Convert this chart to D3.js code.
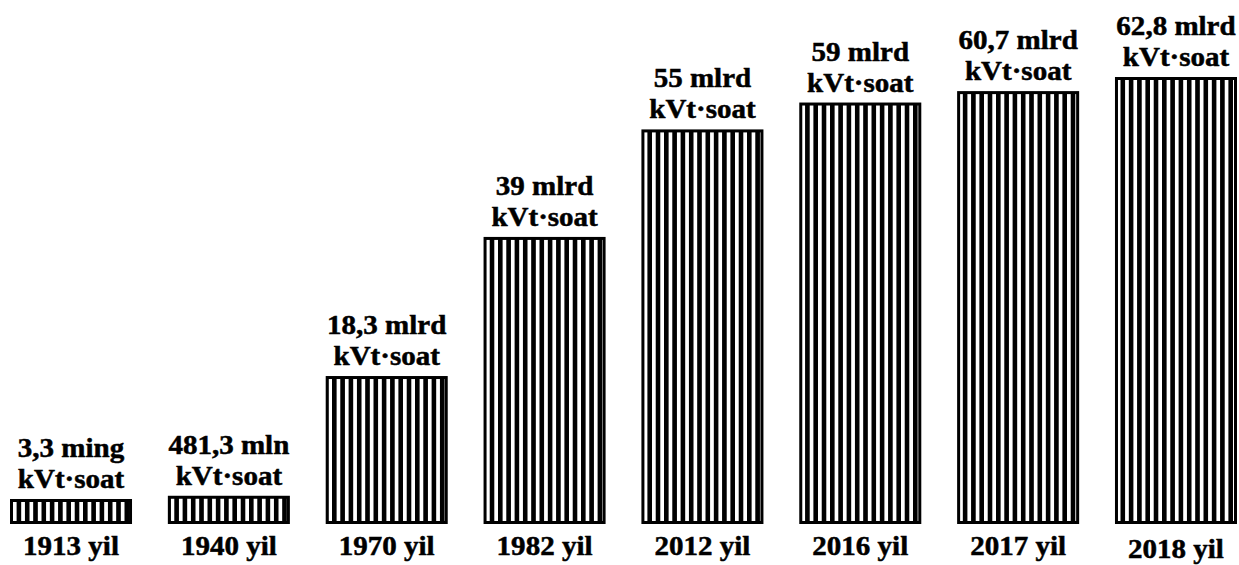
<!DOCTYPE html>
<html>
<head>
<meta charset="utf-8">
<script src="https://cdn.jsdelivr.net/npm/d3@7"></script>
<style>
  html, body { margin: 0; padding: 0; background: #fff; }
  svg text { font-family: "Liberation Serif", "Times New Roman", serif; font-weight: bold; fill: #000; stroke: #000; stroke-width: 0.5px; }
</style>
</head>
<body>
<svg id="chart" width="1239" height="565"></svg>
<script>
// Electricity generation, billions of kWh
const years = ["1913", "1940", "1970", "1982", "2012", "2016", "2017", "2018"];
const valuesBln = [0.0000033, 0.4813, 18.3, 39, 55, 59, 60.7, 62.8];
const valueLabels = ["3,3 ming", "481,3 mln", "18,3 mlrd", "39 mlrd", "55 mlrd", "59 mlrd", "60,7 mlrd", "62,8 mlrd"];
const unitLabel = "kVt·soat";
const yearSuffix = " yil";

const data = years.map((y, i) => ({ year: y, value: valuesBln[i], label: valueLabels[i] }));

const svg = d3.select("#chart");
const baseY = 524;
const border = 3;

const x = d3.scaleBand()
  .domain(years)
  .range([10, 1237])
  .paddingInner(0.227)
  .paddingOuter(0);

// bars keep a small stub at zero so the tiny early values stay visible
const y = d3.scaleLinear()
  .domain([0, d3.max(valuesBln)])
  .range([499, 77]);

// vertical hatching
const defs = svg.append("defs");
const pat = defs.append("pattern")
  .attr("id", "vstripes")
  .attr("patternUnits", "userSpaceOnUse")
  .attr("width", 8.3)
  .attr("height", 10);
pat.append("rect").attr("width", 8.3).attr("height", 10).attr("fill", "#fff");
pat.append("rect").attr("x", 0).attr("width", 4.6).attr("height", 10).attr("fill", "#000");

const g = svg.append("g");

g.selectAll("rect.bar")
  .data(data)
  .join("rect")
  .attr("class", "bar")
  .attr("x", d => x(d.year) + border / 2)
  .attr("y", d => y(d.value) + border / 2)
  .attr("width", x.bandwidth() - border)
  .attr("height", d => baseY - y(d.value) - border)
  .attr("fill", "url(#vstripes)")
  .attr("stroke", "#000")
  .attr("stroke-width", border);

const fs = 27;
const stretch = 1.075;
const cx = d => x(d.year) + x.bandwidth() / 2;

g.selectAll("text.vlabel")
  .data(data)
  .join("text")
  .attr("class", "vlabel")
  .attr("text-anchor", "middle")
  .attr("font-size", fs)
  .attr("transform", d => `translate(${cx(d)},${y(d.value) - 42}) scale(${stretch},1)`)
  .text(d => d.label);

g.selectAll("text.unit")
  .data(data)
  .join("text")
  .attr("class", "unit")
  .attr("text-anchor", "middle")
  .attr("font-size", fs)
  .attr("transform", d => `translate(${cx(d)},${y(d.value) - 11}) scale(${stretch},1)`)
  .text(unitLabel);

g.selectAll("text.year")
  .data(data)
  .join("text")
  .attr("class", "year")
  .attr("text-anchor", "middle")
  .attr("font-size", fs)
  .attr("transform", (d, i) => `translate(${cx(d)},${i === data.length - 1 ? 558 : 555}) scale(${stretch},1)`)
  .text(d => d.year + yearSuffix);
</script>
</body>
</html>
